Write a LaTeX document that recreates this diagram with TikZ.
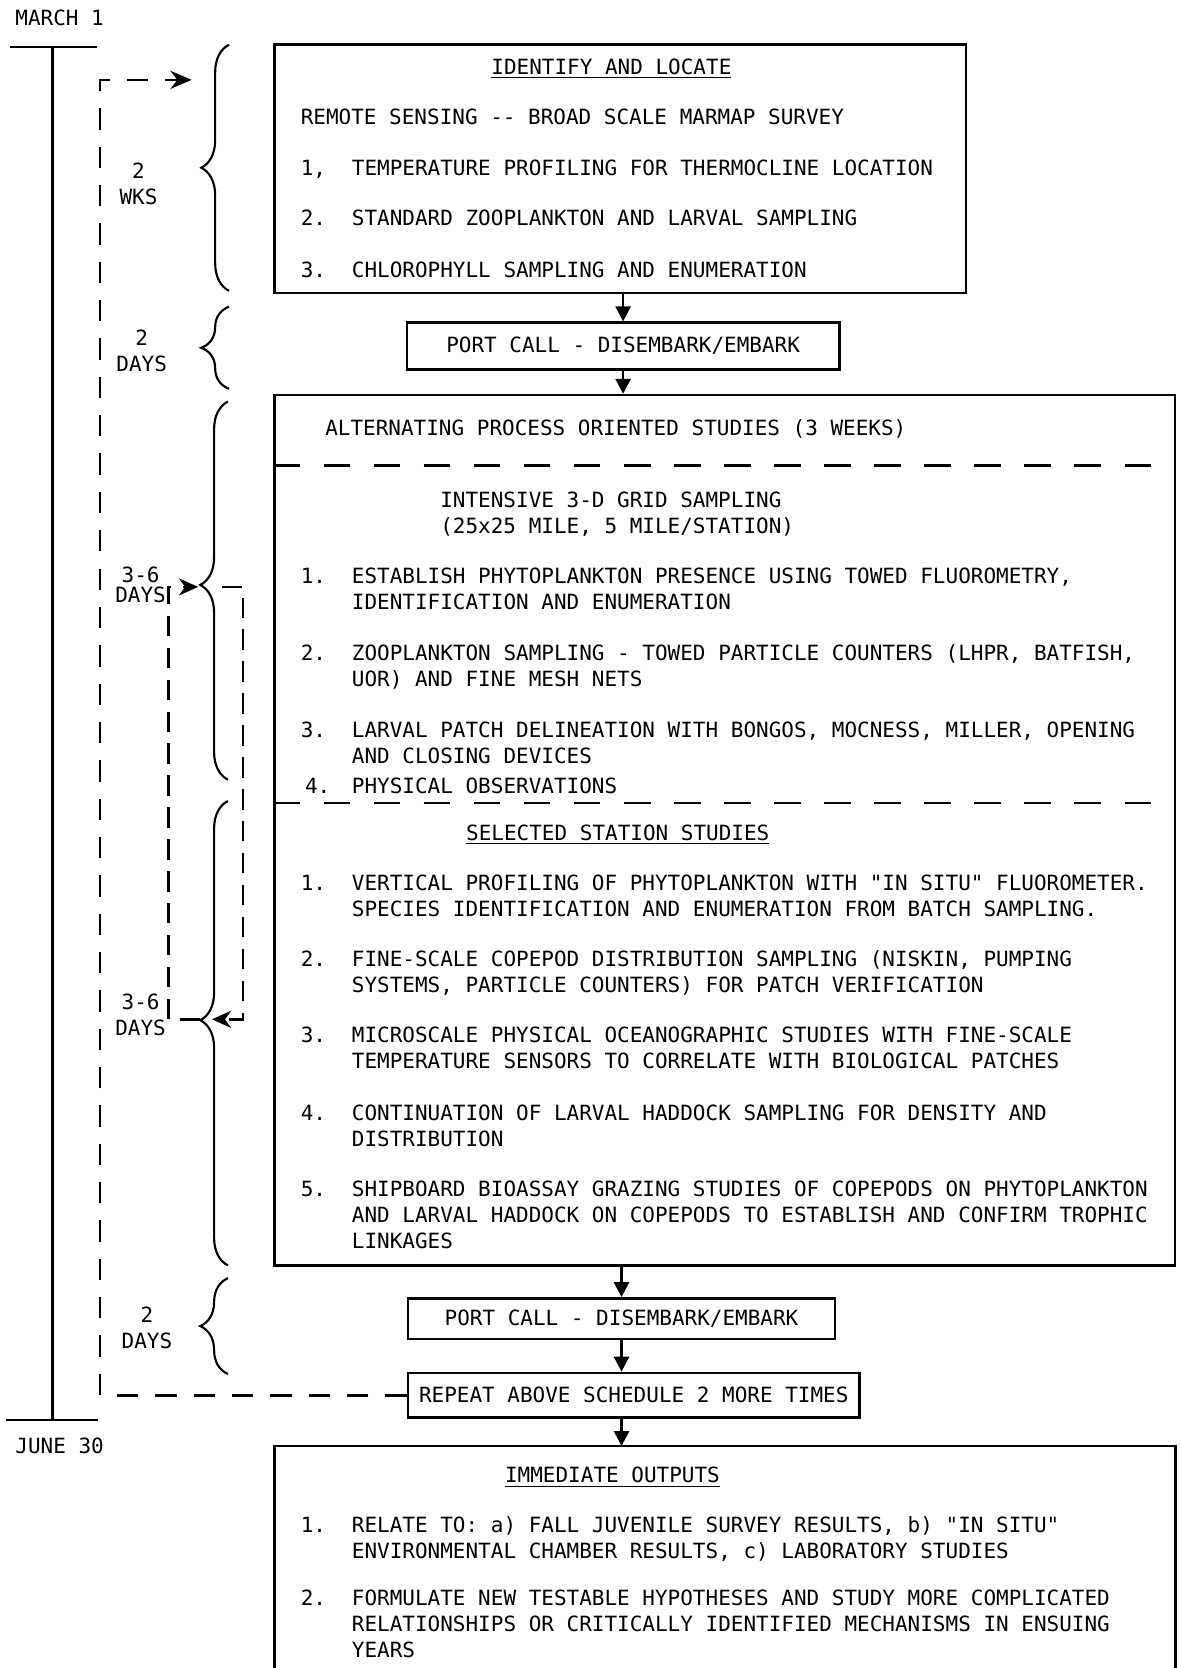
\documentclass[tikz,border=0pt]{standalone}
\usepackage{fontspec}
\setmonofont{DejaVu Sans Mono}
\usetikzlibrary{arrows.meta,decorations.pathreplacing,fit}

\begin{document}
\begin{tikzpicture}[x=0.5pt,y=-0.5pt,
    font=\ttfamily\fontsize{9.85}{12.25}\selectfont,
    frame/.style={draw,line width=1.25pt,inner sep=0pt},
    txt/.style={anchor=base west,inner sep=0pt,align=left},
    side/.style={align=center,inner sep=0pt},
    flow/.style={line width=1.25pt,-{Triangle[width=7pt,length=7pt]}},
    curly/.style={line width=1pt,decorate,decoration={brace,amplitude=13pt,raise=0pt}},
    sep/.style={line width=1.2pt,dash pattern=on 12.5pt off 11pt},
    backloop/.style={line width=1.2pt,dash pattern=on 10pt off 8pt,-{Stealth[length=10pt,width=8.5pt]}},
    innerloop/.style={line width=1.2pt,dash pattern=on 9.5pt off 5.5pt,-{Stealth[length=9pt,width=8pt]}}]
    \useasboundingbox (0,0) rectangle (1107,1566);

    % time line
    \node[inner sep=0pt] (march) at (56,17) {MARCH 1};
    \node[inner sep=0pt] (june) at (56,1357) {JUNE 30};
    \coordinate (start) at (49,44);
    \coordinate (finish) at (49,1333);
    \draw[line width=1.25pt] (9,44) -- (91,44); % march bar
    \draw[line width=1.25pt] (start) -- (finish);
    \draw[line width=1.25pt] (6,1333) -- (92,1333); % june bar

    % boxes
    \node[frame,fit={(258,42) (907,275)}] (identify) {};
    \node[frame,minimum width=203pt,minimum height=22pt] (portA) at (585,325) {PORT CALL - DISEMBARK/EMBARK};
    \node[frame,fit={(258,371) (1103,1188)}] (studies) {};
    \node[frame,minimum width=200.5pt,minimum height=19pt] (portB) at (583.5,1238) {PORT CALL - DISEMBARK/EMBARK};
    \node[frame,minimum width=212pt,minimum height=21pt] (repeat) at (595,1310) {REPEAT ABOVE SCHEDULE 2 MORE TIMES};
    \node[inner sep=0pt,fit={(258,1358) (1103,1567)}] (outputs) {};
    \draw[line width=1.25pt] (outputs.south west) |- (outputs.north east) -- (outputs.south east); % open at the bottom

    % identify and locate
    \node[txt,anchor=base] (idhead) at (574,70) {\underline{IDENTIFY AND LOCATE}};
    \node[txt] (remote) at (282,117) {REMOTE SENSING -{}- BROAD SCALE MARMAP SURVEY};
    \node[txt] (idnum1) at (282,165) {1,};
    \node[txt] (iditem1) at (330,165) {TEMPERATURE PROFILING FOR THERMOCLINE LOCATION};
    \node[txt] (idnum2) at (282,212) {2.};
    \node[txt] (iditem2) at (330,212) {STANDARD ZOOPLANKTON AND LARVAL SAMPLING};
    \node[txt] (idnum3) at (282,261) {3.};
    \node[txt] (iditem3) at (330,261) {CHLOROPHYLL SAMPLING AND ENUMERATION};

    % process oriented studies (multi-line nodes sit on their last line)
    \node[txt] (alt) at (305,409) {ALTERNATING PROCESS ORIENTED STUDIES (3 WEEKS)};
    \coordinate (cutA) at (0,437);
    \draw[sep] (studies.west |- cutA) -- (studies.east |- cutA);
    \node[txt] (grid) at (413,500.5) {INTENSIVE 3-D GRID SAMPLING\\(25x25 MILE, 5 MILE/STATION)};
    \node[txt] (gnum1) at (282,548) {1.};
    \node[txt] (gitem1) at (330,572.5) {ESTABLISH PHYTOPLANKTON PRESENCE USING TOWED FLUOROMETRY,\\IDENTIFICATION AND ENUMERATION};
    \node[txt] (gnum2) at (282,620) {2.};
    \node[txt] (gitem2) at (330,644.5) {ZOOPLANKTON SAMPLING - TOWED PARTICLE COUNTERS (LHPR, BATFISH,\\UOR) AND FINE MESH NETS};
    \node[txt] (gnum3) at (282,692) {3.};
    \node[txt] (gitem3) at (330,716.5) {LARVAL PATCH DELINEATION WITH BONGOS, MOCNESS, MILLER, OPENING\\AND CLOSING DEVICES};
    \node[txt] (gnum4) at (286,745) {4.};
    \node[txt] (gitem4) at (330,745) {PHYSICAL OBSERVATIONS};
    \coordinate (cutB) at (0,754);
    \draw[sep] (studies.west |- cutB) -- (studies.east |- cutB);
    \node[txt,anchor=base] (sthead) at (580,789) {\underline{SELECTED STATION STUDIES}};
    \node[txt] (snum1) at (282,836) {1.};
    \node[txt] (sitem1) at (330,860.5) {VERTICAL PROFILING OF PHYTOPLANKTON WITH "IN SITU" FLUOROMETER.\\SPECIES IDENTIFICATION AND ENUMERATION FROM BATCH SAMPLING.};
    \node[txt] (snum2) at (282,907) {2.};
    \node[txt] (sitem2) at (330,931.5) {FINE-SCALE COPEPOD DISTRIBUTION SAMPLING (NISKIN, PUMPING\\SYSTEMS, PARTICLE COUNTERS) FOR PATCH VERIFICATION};
    \node[txt] (snum3) at (282,979) {3.};
    \node[txt] (sitem3) at (330,1003.5) {MICROSCALE PHYSICAL OCEANOGRAPHIC STUDIES WITH FINE-SCALE\\TEMPERATURE SENSORS TO CORRELATE WITH BIOLOGICAL PATCHES};
    \node[txt] (snum4) at (282,1052) {4.};
    \node[txt] (sitem4) at (330,1076.5) {CONTINUATION OF LARVAL HADDOCK SAMPLING FOR DENSITY AND\\DISTRIBUTION};
    \node[txt] (snum5) at (282,1123) {5.};
    \node[txt] (sitem5) at (330,1172) {SHIPBOARD BIOASSAY GRAZING STUDIES OF COPEPODS ON PHYTOPLANKTON\\AND LARVAL HADDOCK ON COPEPODS TO ESTABLISH AND CONFIRM TROPHIC\\LINKAGES};

    % immediate outputs
    \node[txt,anchor=base] (outhead) at (575,1392) {\underline{IMMEDIATE OUTPUTS}};
    \node[txt] (onum1) at (282,1439) {1.};
    \node[txt] (oitem1) at (330,1463.5) {RELATE TO: a) FALL JUVENILE SURVEY RESULTS, b) "IN SITU"\\ENVIRONMENTAL CHAMBER RESULTS, c) LABORATORY STUDIES};
    \node[txt] (onum2) at (282,1507) {2.};
    \node[txt] (oitem2) at (330,1556) {FORMULATE NEW TESTABLE HYPOTHESES AND STUDY MORE COMPLICATED\\RELATIONSHIPS OR CRITICALLY IDENTIFIED MECHANISMS IN ENSUING\\YEARS};

    % flow between boxes
    \draw[flow] (portA.north |- identify.south) -- (portA.north);
    \draw[flow] (portA.south) -- (portA.south |- studies.north);
    \draw[flow] (portB.north |- studies.south) -- (portB.north);
    \draw[flow] (portB.south) -- (portB.south |- repeat.north);
    \draw[flow] (portB.south |- repeat.south) -- (portB.south |- outputs.north);

    % durations
    \draw[curly] (215,273) -- (215,42); % 2 wks
    \draw[curly] (215,365) -- (215,288); % 2 days
    \draw[curly,decoration={aspect=0.515}] (214,732) -- (214,377); % 3-6 days
    \draw[curly,decoration={aspect=0.528}] (214,1188) -- (214,752); % 3-6 days
    \draw[curly] (214,1290) -- (214,1200); % 2 days
    \node[side] (wks) at (130,173) {2\\WKS};
    \node[side] (daysA) at (133,329) {2\\DAYS};
    \node[side] (daysB) at (132,549) {3-6\\[-2.75pt]DAYS};
    \node[side] (daysC) at (132,953) {3-6\\DAYS};
    \node[side] (daysD) at (138,1247) {2\\DAYS};

    % loops
    \coordinate (back) at (180,75);
    \draw[backloop] (repeat.west) -| (94,75) -- (back); % repeat schedule
    \coordinate (fromC) at (208,551);
    \coordinate (intoC) at (186,551);
    \coordinate (fromD) at (188,957);
    \coordinate (intoD) at (199,957);
    \draw[innerloop] (fromC) -- (228,551) |- (intoD);
    \draw[innerloop] (fromD) -- (158,957) |- (intoC);
\end{tikzpicture}
\end{document}
